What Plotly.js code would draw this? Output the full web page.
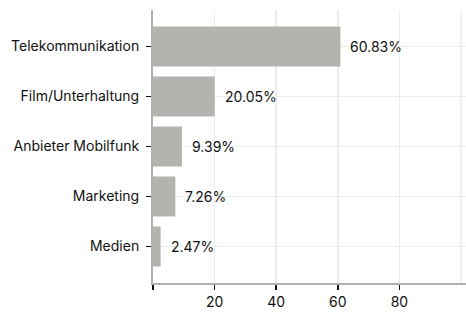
<!DOCTYPE html>
<html><head><meta charset="utf-8">
<script src="https://cdn.plot.ly/plotly-3.0.1.min.js"></script>
<style>html,body{margin:0;padding:0;background:#fff}#c{width:466px;height:313px}</style>
</head><body><div id="c"></div>
<script>
const categories = ["Telekommunikation","Film/Unterhaltung","Anbieter Mobilfunk","Marketing","Medien"];
const values = [60.83, 20.05, 9.39, 7.26, 2.47];
const tickVals = [0,20,40,60,80];
const tickText = ["","20","40","60","80"];

const font = {family:"Inter, Roboto, sans-serif", size:14, color:"#111"};
const data = [{
  type:"bar", orientation:"h", x:values, y:categories,
  marker:{color:"#b3b3af"}, width:0.8, hoverinfo:"none"
}];
const layout = {
  width:466, height:313,
  margin:{l:153, r:0, t:10, b:30},
  paper_bgcolor:"#fff", plot_bgcolor:"#fff",
  font:font, showlegend:false,
  xaxis:{range:[0,101.6], tickvals:tickVals, ticktext:tickText, ticks:"outside", ticklen:5, tickwidth:1.5, tickcolor:"#111",
    showgrid:true, gridcolor:"#ececec", gridwidth:1.5, showline:true, linecolor:"#b0b0ad", linewidth:2, zeroline:false, tickfont:font},
  yaxis:{autorange:false, range:[4.73,-0.73], ticks:"outside", ticklen:5, tickwidth:1.5, tickcolor:"#111",
    showgrid:true, gridcolor:"#ececec", gridwidth:1.5, showline:true, linecolor:"#b0b0ad", linewidth:2, zeroline:false, tickfont:font, ticklabelstandoff:4},
  shapes:[{type:"line", xref:"x", yref:"paper", x0:100, x1:100, y0:0, y1:1, layer:"below", line:{color:"#ececec", width:1.5}}],
  annotations: values.map((v,i)=>({xref:"x", yref:"y", x:v, y:categories[i], text:v.toFixed(2)+"%", showarrow:false, xanchor:"left", xshift:8, font:font}))
};
Plotly.newPlot("c", data, layout, {displayModeBar:false, staticPlot:true});
</script></body></html>
